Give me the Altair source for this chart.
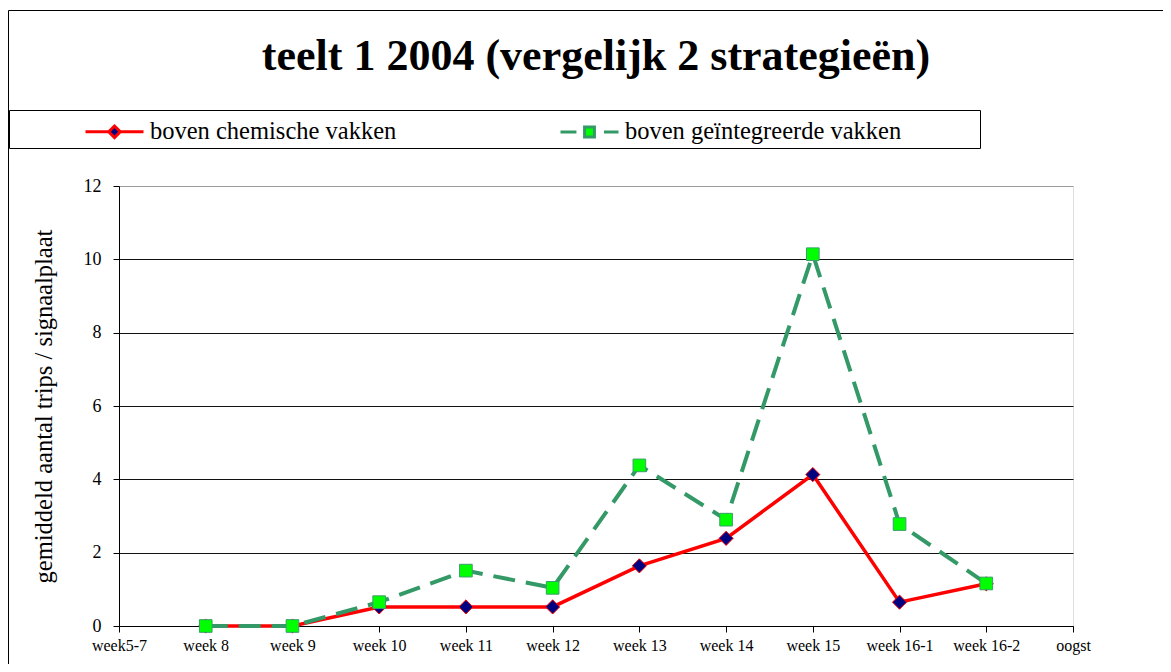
import altair as alt
import pandas as pd

# ---- data -------------------------------------------------------------
categories = ["week5-7", "week 8", "week 9", "week 10", "week 11", "week 12",
              "week 13", "week 14", "week 15", "week 16-1", "week 16-2", "oogst"]
weeks = ["week 8", "week 9", "week 10", "week 11", "week 12",
         "week 13", "week 14", "week 15", "week 16-1", "week 16-2"]
chemisch = [0.0, 0.0, 0.52, 0.52, 0.52, 1.64, 2.39, 4.13, 0.65, 1.15]
geintegreerd = [0.0, 0.0, 0.65, 1.51, 1.04, 4.38, 2.90, 10.14, 2.78, 1.16]
series_names = ["boven chemische vakken", "boven geïntegreerde vakken"]
y_ticks = [0, 2, 4, 6, 8, 10, 12]

FONT = "Liberation Serif"

df_chem = pd.DataFrame({"week": weeks, "waarde": chemisch, "reeks": series_names[0]})
df_int = pd.DataFrame({"week": weeks, "waarde": geintegreerd, "reeks": series_names[1]})

x_enc = alt.X(
    "week:N",
    scale=alt.Scale(type="point", domain=categories, padding=0),
    axis=alt.Axis(title=None, labelAngle=0, labelFont=FONT, labelFontSize=16,
                  labelColor="black", tickSize=6, tickColor="black",
                  domainColor="black", labelPadding=5, grid=False,
                  labelOverlap=False),
)
y_enc = alt.Y(
    "waarde:Q",
    scale=alt.Scale(domain=[0, 12], nice=False),
    axis=alt.Axis(values=y_ticks, title="gemiddeld aantal trips / signaalplaat",
                  titleFont=FONT, titleFontSize=24.5, titleFontWeight="normal",
                  titleColor="black", titlePadding=27,
                  labelFont=FONT, labelFontSize=18, labelColor="black",
                  tickSize=6, tickColor="black", labelPadding=12,
                  domainColor="black", grid=True, gridWidth=1,
                  gridColor={"condition": {"test": "datum.value === 12", "value": "#9a9a9a"},
                             "value": "#111111"}),
)

red_line = alt.Chart(df_chem).mark_line(color="#ff0000", strokeWidth=3.5).encode(x=x_enc, y=y_enc)
red_pts = alt.Chart(df_chem).mark_point(
    shape="diamond", filled=True, fill="#000080", stroke="#ff0000",
    strokeWidth=1, size=200, opacity=1).encode(x=x_enc, y=y_enc)
green_line = alt.Chart(df_int).mark_line(
    color="#339966", strokeWidth=4, strokeDash=[22, 11]).encode(x=x_enc, y=y_enc)
green_pts = alt.Chart(df_int).mark_point(
    shape="square", filled=True, fill="#00ff00", stroke="#3a9e6c",
    strokeWidth=1, size=160, opacity=1).encode(x=x_enc, y=y_enc)

# ---- legend (real Vega legend built from scales) ----------------------
path_red = "M-1,0H-0.2M0.2,0H1M0,-0.2L0.2,0L0,0.2L-0.2,0Z"
path_green = "M-1,0H-0.45M0.5,0H1M-0.17,-0.17H0.17V0.17H-0.17Z"

leg = alt.Legend(title=None, orient="none", legendX=-35, legendY=-85,
                 direction="horizontal", labelFont=FONT, labelFontSize=24.5,
                 labelColor="black", labelOffset=5, columnPadding=157,
                 padding=0, symbolSize=3364, symbolStrokeWidth=3,
                 labelLimit=0, zindex=1)
legend_df = pd.DataFrame({"reeks": series_names})
legend_layer = alt.Chart(legend_df).transform_filter("false").mark_point(
    filled=True, opacity=1, strokeWidth=3).encode(
    stroke=alt.Stroke("reeks:N", scale=alt.Scale(domain=series_names,
                                                 range=["#ff0000", "#339966"]), legend=leg),
    fill=alt.Fill("reeks:N", scale=alt.Scale(domain=series_names,
                                             range=["#000080", "#00ff00"]), legend=leg),
    shape=alt.Shape("reeks:N", scale=alt.Scale(domain=series_names,
                                               range=[path_red, path_green]), legend=leg),
)

# ---- decorations: chart frame and legend box ---------------------------
one = alt.Data(values=[{}])
frame_left = alt.Chart(one).mark_rule(color="black", strokeWidth=1).encode(
    x=alt.value(-110.5), y=alt.value(-175.5), y2=alt.value(478))
frame_top = alt.Chart(one).mark_rule(color="black", strokeWidth=1).encode(
    x=alt.value(-110.5), x2=alt.value(1044), y=alt.value(-175.5))
legend_box = alt.Chart(one).mark_rect(fillOpacity=0, stroke="black", strokeWidth=1).encode(
    x=alt.value(-109.5), x2=alt.value(861.5), y=alt.value(-75.5), y2=alt.value(-37.5))

chart = alt.layer(
    frame_left, frame_top, legend_box,
    red_line, red_pts, green_line, green_pts, legend_layer,
).properties(
    width=954, height=440,
    padding={"left": 111, "top": 178, "right": 90, "bottom": 38},
    autosize=alt.AutoSizeParams(type="none"),
    background="white",
    title=alt.TitleParams("teelt 1 2004 (vergelijk 2 strategieën)", font=FONT,
                          fontSize=44, fontWeight="bold", color="black",
                          anchor="middle", frame="group", baseline="alphabetic",
                          offset=-104),
).configure_view(
    stroke="#9a9a9a", strokeWidth=1
).configure_legend(
    labelFont=FONT, labelFontSize=24.5, labelColor="black"
).configure_axis(
    labelFont=FONT, titleFont=FONT
).configure(font=FONT)

chart.save("out.html", embed_options={"renderer": "svg", "actions": False})
